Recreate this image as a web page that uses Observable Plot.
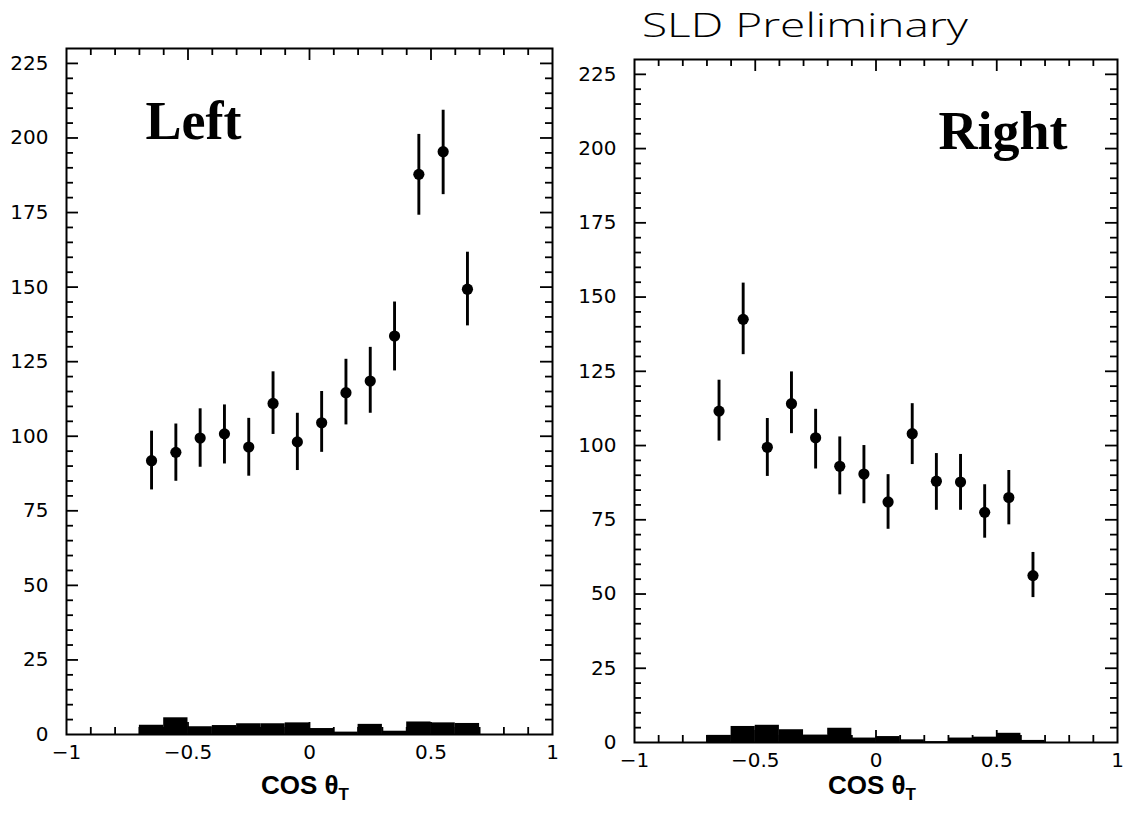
<!DOCTYPE html>
<html>
<head>
<meta charset="utf-8">
<script src="https://cdn.jsdelivr.net/npm/d3@7"></script>
<script src="https://cdn.jsdelivr.net/npm/@observablehq/plot@0.6"></script>
<style>
  html, body { margin: 0; padding: 0; background: white; }
  #page { position: relative; width: 1125px; height: 817px; background: white; overflow: hidden; }
  .panel { position: absolute; top: 0; }
  #titlesvg { position: absolute; left: 0; top: 0; }
  .xlabel { position: absolute; top: 770px; font-family: "Liberation Sans"; font-weight: bold; font-size: 26px; color: black; white-space: nowrap; transform: translateX(-50%); }
  .xlabel sub { font-size: 17px; vertical-align: -6px; }
</style>
</head>
<body>
<div id="page">
  <div id="left" class="panel" style="left:0px"></div>
  <div id="right" class="panel" style="left:570px"></div>
  <svg id="titlesvg" width="1125" height="60">
    <text x="642" y="37" textLength="326" lengthAdjust="spacingAndGlyphs" font-family="Open Sans" font-weight="300" font-size="33" fill="black">SLD Preliminary</text>
  </svg>
  <div class="xlabel" style="left:305px">COS θ<sub>T</sub></div>
  <div class="xlabel" style="left:872px">COS θ<sub>T</sub></div>
</div>
<script>
// ---- data ----
const binCenters = [-0.65, -0.55, -0.45, -0.35, -0.25, -0.15, -0.05, 0.05, 0.15, 0.25, 0.35, 0.45, 0.55, 0.65];
const binLow     = [-0.7, -0.6, -0.5, -0.4, -0.3, -0.2, -0.1, 0.0, 0.1, 0.2, 0.3, 0.4, 0.5, 0.6];
const binHigh    = [-0.6, -0.5, -0.4, -0.3, -0.2, -0.1, 0.0, 0.1, 0.2, 0.3, 0.4, 0.5, 0.6, 0.7];

const leftValues = [91.8, 94.6, 99.4, 100.8, 96.4, 111.0, 98.1, 104.5, 114.6, 118.5, 133.6, 187.8, 195.4, 149.3];
const leftErrLo  = [82.0, 84.9, 89.6, 90.7, 86.6, 100.6, 88.5, 94.6, 103.8, 107.7, 121.9, 174.1, 181.0, 137.0];
const leftErrHi  = [101.7, 104.1, 109.2, 110.5, 106.0, 121.6, 107.7, 115.0, 125.8, 129.8, 145.0, 201.2, 209.3, 161.7];
const leftBkg    = [3.1, 5.6, 2.6, 3.0, 3.6, 3.6, 3.9, 2.0, 0.8, 3.4, 1.1, 4.2, 3.9, 3.7];

const rightValues = [111.6, 142.5, 99.4, 114.1, 102.6, 93.0, 90.4, 81.0, 104.0, 88.0, 87.7, 77.5, 82.5, 56.2];
const rightErrLo  = [101.5, 130.6, 89.6, 104.0, 92.1, 83.4, 80.4, 71.8, 93.6, 78.2, 78.2, 68.8, 73.3, 48.8];
const rightErrHi  = [122.0, 154.7, 109.1, 124.8, 112.2, 102.9, 100.0, 90.2, 114.1, 97.3, 97.0, 86.8, 91.6, 64.0];
const rightBkg    = [2.4, 5.4, 5.8, 4.3, 2.5, 4.8, 1.5, 2.0, 0.9, 0.3, 1.5, 1.8, 3.1, 0.7];

const yTickLabels = [0, 25, 50, 75, 100, 125, 150, 175, 200, 225];
const yMinorTicks = [5, 10, 15, 20, 25, 30, 35, 40, 45, 50, 55, 60, 65, 70, 75, 80, 85, 90, 95, 100, 105, 110, 115, 120, 125, 130, 135, 140, 145, 150, 155, 160, 165, 170, 175, 180, 185, 190, 195, 200, 205, 210, 215, 220, 225];
const xTickLabels = [-1, -0.5, 0, 0.5, 1];
const xMinorTicks = [-0.9, -0.8, -0.7, -0.6, -0.5, -0.4, -0.3, -0.2, -0.1, 0, 0.1, 0.2, 0.3, 0.4, 0.5, 0.6, 0.7, 0.8, 0.9];
const yMax = 230;

function panel({values, lo, hi, bkg, width, marginLeft, marginRight, marginTop, marginBottom, label, labelX, labelY, labelAnchor}) {
  const pts = binCenters.map((x, i) => ({x, y: values[i], lo: lo[i], hi: hi[i]}));
  const hist = binLow.map((x1, i) => ({x1, x2: binHigh[i], v: bkg[i]}));
  const isMajorY = d => Math.abs(d % 25) < 1e-9;
  const isMajorX = d => Math.abs(Math.round(d * 2) - d * 2) < 1e-9;
  const plotW = width - marginLeft - marginRight;
  const plotH = 817 - marginTop - marginBottom;
  const xPerPx = 2 / plotW, yPerPx = yMax / plotH;
  const yLen = d => (isMajorY(d) ? 12 : 7) * xPerPx;
  const xLen = d => (isMajorX(d) ? 12 : 7) * yPerPx;
  const fmt = d => d < 0 ? "\u2212" + Math.abs(d) : String(d);
  return Plot.plot({
    width, height: 817, marginLeft, marginRight, marginTop, marginBottom,
    x: {domain: [-1, 1]},
    y: {domain: [0, yMax]},
    style: {fontFamily: "DejaVu Sans", fontSize: "20px", color: "black", background: "transparent", overflow: "visible"},
    marks: [
      Plot.rect(hist, {x1: "x1", x2: "x2", y1: 0, y2: "v", fill: "black"}),
      Plot.ruleY(yMinorTicks, {y: d => d, x1: -1, x2: d => -1 + yLen(d), stroke: "black", strokeWidth: 1.8}),
      Plot.ruleY(yMinorTicks, {y: d => d, x1: d => 1 - yLen(d), x2: 1, stroke: "black", strokeWidth: 1.8}),
      Plot.ruleX(xMinorTicks, {x: d => d, y1: 0, y2: d => xLen(d), stroke: "black", strokeWidth: 1.8}),
      Plot.ruleX(xMinorTicks, {x: d => d, y1: yMax, y2: d => yMax - xLen(d), stroke: "black", strokeWidth: 1.8}),
      Plot.ruleX(pts, {x: "x", y1: "lo", y2: "hi", stroke: "black", strokeWidth: 2.9}),
      Plot.dot(pts, {x: "x", y: "y", r: 5.6, fill: "black", stroke: "none"}),
      Plot.frame({stroke: "black", strokeWidth: 2}),
      Plot.axisY({ticks: yTickLabels, tickSize: 0, tickPadding: 18, label: null, fontSize: 20}),
      Plot.axisX({ticks: xTickLabels, tickSize: 0, tickPadding: 10, tickFormat: fmt, label: null, fontSize: 20}),
      Plot.text([label], {x: labelX, y: labelY, text: d => d, textAnchor: labelAnchor, lineAnchor: "bottom",
        fontFamily: "Liberation Serif", fontWeight: "bold", fontSize: 54, fill: "black"})
    ]
  });
}

document.getElementById("left").append(panel({
  values: leftValues, lo: leftErrLo, hi: leftErrHi, bkg: leftBkg,
  width: 570, marginLeft: 66, marginRight: 18, marginTop: 48, marginBottom: 83,
  label: "Left", labelX: -0.675, labelY: 199.5, labelAnchor: "start"
}));
document.getElementById("right").append(panel({
  values: rightValues, lo: rightErrLo, hi: rightErrHi, bkg: rightBkg,
  width: 555, marginLeft: 64, marginRight: 8, marginTop: 59, marginBottom: 75,
  label: "Right", labelX: 0.793, labelY: 200, labelAnchor: "end"
}));
</script>
</body>
</html>
